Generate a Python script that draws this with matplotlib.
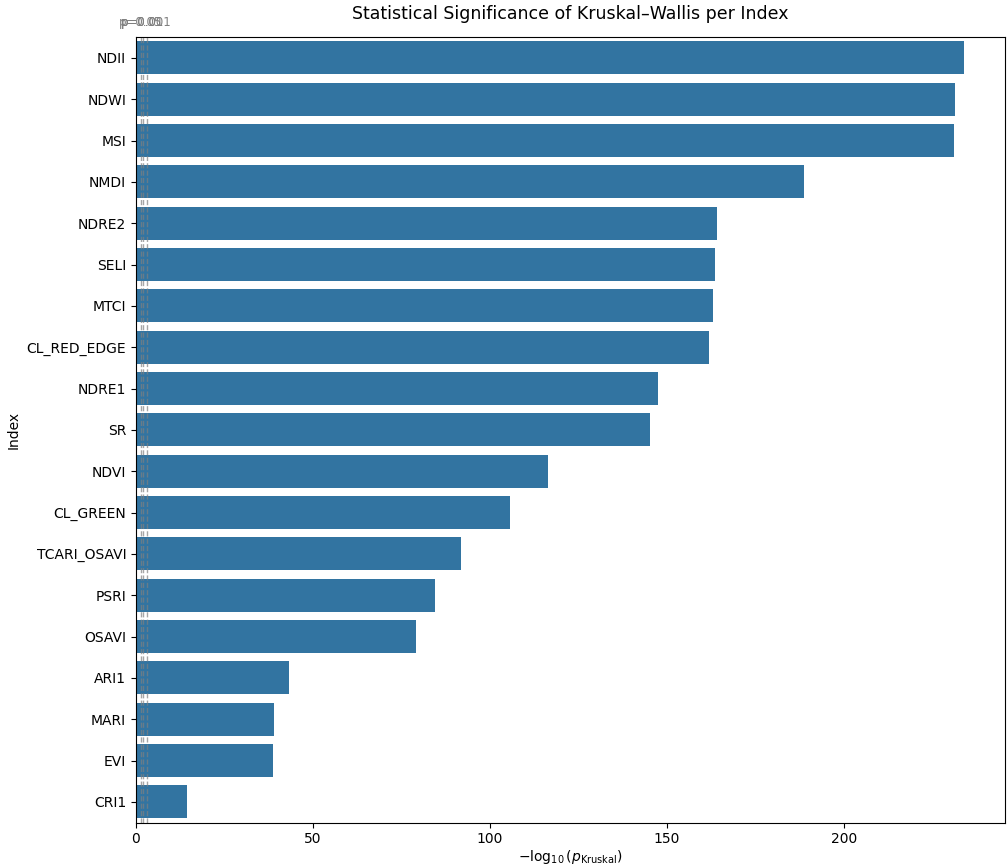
import numpy as np
import pandas as pd
import matplotlib
matplotlib.use("Agg")
import matplotlib.pyplot as plt
import seaborn as sns

# Kruskal-Wallis results per spectral index, as -log10(p)
indices = ["NDII", "NDWI", "MSI", "NMDI", "NDRE2", "SELI", "MTCI", "CL_RED_EDGE",
           "NDRE1", "SR", "NDVI", "CL_GREEN", "TCARI_OSAVI", "PSRI", "OSAVI",
           "ARI1", "MARI", "EVI", "CRI1"]
neg_log_p = [233.8, 231.4, 231.2, 188.7, 164.0, 163.6, 162.9, 161.9,
             147.5, 145.1, 116.5, 105.6, 91.8, 84.6, 79.2,
             43.1, 38.9, 38.8, 14.4]

# significance thresholds
alphas = [0.05, 0.01, 0.001]

df = pd.DataFrame({"Index": indices, "neglog10p": neg_log_p})

fig, ax = plt.subplots(figsize=(10.07, 8.65), dpi=100)
fig.subplots_adjust(left=0.135, right=0.998, top=0.957, bottom=0.049)

sns.barplot(data=df, x="neglog10p", y="Index", color="#1f77b4", ax=ax)

for a in alphas:
    thr = -np.log10(a)
    ax.axvline(thr, color="grey", linestyle="--", linewidth=1, alpha=0.7)
    ax.text(thr, 1.01, f"p={a}", transform=ax.get_xaxis_transform(),
            ha="center", va="bottom", fontsize=8.5, color="grey")

ax.set_xlabel(r"$-\log_{10}(p_{\mathrm{Kruskal}})$", labelpad=1)
ax.set_ylabel("Index")
ax.set_title("Statistical Significance of Kruskal–Wallis per Index", fontsize=12.5, pad=13)

plt.savefig("out.png")
plt.close()
